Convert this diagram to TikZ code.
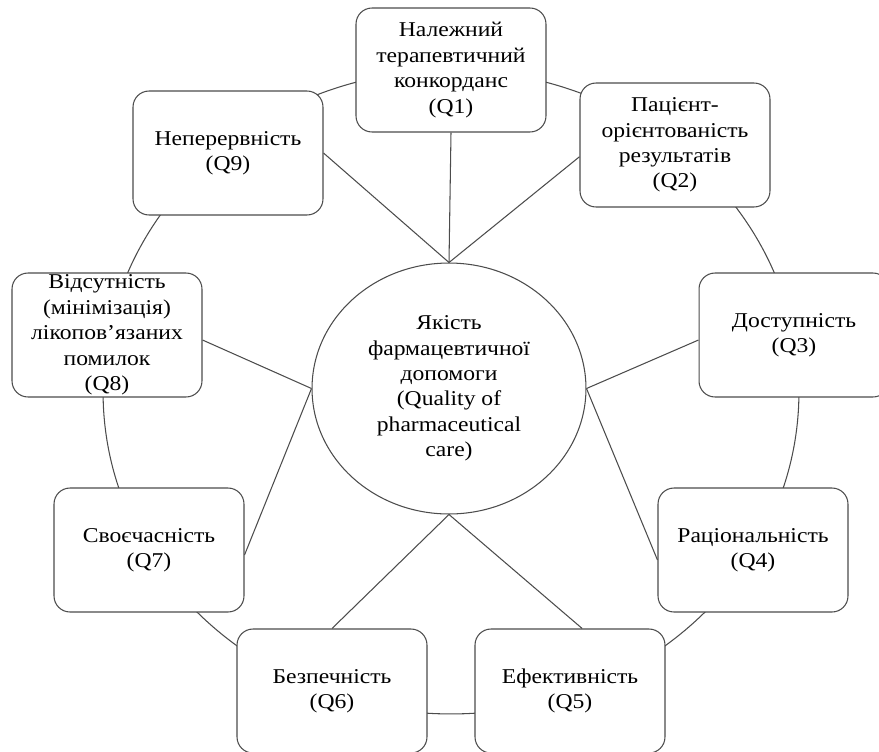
\documentclass[tikz,border=0pt]{standalone}
\usepackage{fontspec}
\setmainfont[FakeStretch=1.12]{Liberation Serif}
\usepackage{tikz}
\usetikzlibrary{shapes.geometric}

\begin{document}
\begin{tikzpicture}[x=0.02cm,y=-0.02cm,line width=0.6pt,draw=black!70,
  every node/.style={font=\fontsize{12}{14.5}\selectfont,align=center},
  qbox/.style={rectangle,rounded corners=0.32cm,draw=black!70,fill=white,
    minimum width=3.8cm,minimum height=2.48cm,inner sep=0pt},
  core/.style={ellipse,draw=black!70,fill=white,
    minimum width=5.48cm,minimum height=5.02cm,inner sep=0pt}]
\useasboundingbox (0,0) rectangle (879,751);
\clip (0,0) rectangle (879,751);

\draw[black!70] (451,392) ellipse [x radius=6.96cm,y radius=6.44cm];

\node[core] (q0) at (449,388.5) {Якість\\фармацевтичної\\допомоги\\ (Quality of\\pharmaceutical\\care)};

\node[qbox] (q1) at (451,70)  {Належний\\терапевтичний\\конкорданс\\(Q1)};
\node[qbox] (q2) at (675,145) {Пацієнт-\\орієнтованість\\результатів\\(Q2)};
\node[qbox] (q3) at (794,335) {Доступність\\(Q3)};
\node[qbox] (q4) at (753,550) {Раціональність\\(Q4)};
\node[qbox] (q5) at (570,691) {Ефективність\\(Q5)};
\node[qbox] (q6) at (332,691) {Безпечність\\(Q6)};
\node[qbox] (q7) at (149,550) {Своєчасність\\(Q7)};
\node[qbox] (q8) at (107,335) {Відсутність\\(мінімізація)\\лікопов’язаних\\помилок\\(Q8)};
\node[qbox] (q9) at (228,153) {Неперервність\\(Q9)};

\path[draw=black!70]
(q1.south) edge (q0.north)
(q2.187)   edge (q0.north)
(q9.east)  edge (q0.north)
(q3.183)   edge (q0.east)
(q4.186)   edge (q0.east)
(q8.-3)    edge (q0.west)
(q7.-3)    edge (q0.west)
(q5.79)    edge (q0.south)
(q6.north) edge (q0.south)
;
\end{tikzpicture}
\end{document}
